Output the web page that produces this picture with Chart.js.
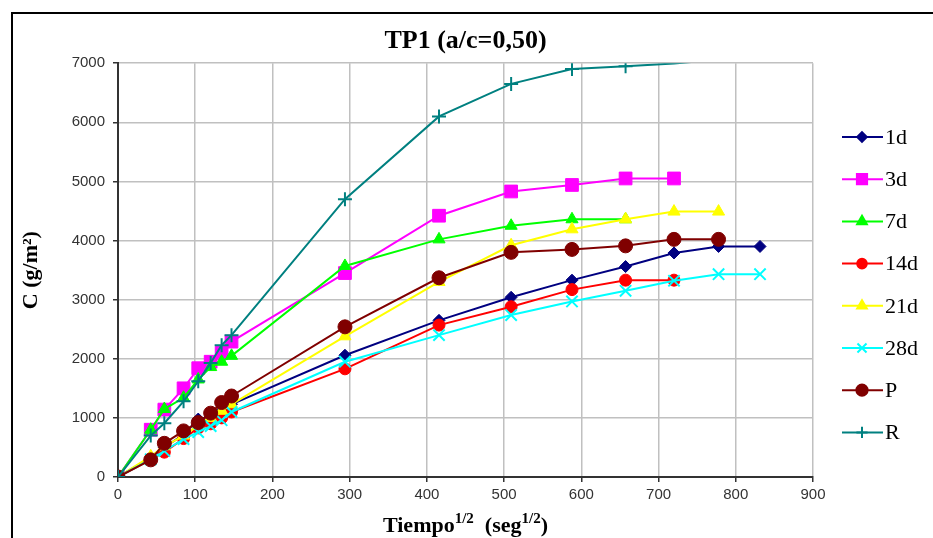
<!DOCTYPE html>
<html lang="es">
<head>
    <meta charset="UTF-8">
    <title>TP1 (a/c=0,50)</title>
    <script src="https://cdn.jsdelivr.net/npm/chart.js"></script>
    <style>
        body { margin: 0; background: #fff; overflow: hidden; }
        #marco { position: absolute; left: 11px; top: 12px; width: 1000px; height: 600px; border: 2px solid #000; }
        #grafico { position: absolute; left: 0; top: 0; }
    </style>
    <script>
        // raiz del tiempo (seg^1/2)
        var tiempo = [0, 42.4, 60, 84.9, 103.9, 120, 134.2, 147, 293.9, 415.7, 509.1, 587.9, 657.3, 720, 777.7, 831.4];

        var serie1d  = [0, 330, 500, 720, 980, 1020, 1120, 1230, 2060, 2650, 3040, 3330, 3560, 3790, 3900, 3900];
        var serie3d  = [0, 800, 1140, 1500, 1840, 1950, 2100, 2290, 3450, 4420, 4830, 4940, 5050, 5050];
        var serie7d  = [0, 800, 1150, 1340, 1650, 1860, 1950, 2050, 3570, 4020, 4250, 4360, 4360];
        var serie14d = [0, 300, 420, 650, 830, 900, 1000, 1100, 1830, 2570, 2880, 3170, 3330, 3330];
        var serie21d = [0, 350, 520, 700, 870, 1000, 1120, 1230, 2380, 3300, 3920, 4190, 4360, 4490, 4490];
        var serie28d = [0, 300, 440, 640, 760, 860, 960, 1100, 1950, 2400, 2740, 2970, 3150, 3320, 3430, 3430];
        var serieP   = [0, 290, 570, 780, 920, 1080, 1260, 1370, 2540, 3370, 3800, 3850, 3910, 4020, 4020];
        var serieR   = [0, 700, 910, 1280, 1620, 1930, 2230, 2400, 4700, 6100, 6650, 6900, 6950, 6995, 7060];

        var nombres = ['1d', '3d', '7d', '14d', '21d', '28d', 'P', 'R'];
        var ticksY = [0, 1000, 2000, 3000, 4000, 5000, 6000, 7000];
        var ticksX = [0, 100, 200, 300, 400, 500, 600, 700, 800, 900];

        function puntos(valores) {
            return valores.map(function(v, i) { return { x: tiempo[i], y: v }; });
        }

        function serie(nombre, valores, color, estilo, radio, orden) {
            return {
                label: nombre,
                data: puntos(valores),
                borderColor: color,
                backgroundColor: color,
                borderWidth: 2,
                pointStyle: estilo,
                radioBase: radio,
                // los puntos pegados al borde superior no se ven
                pointRadius: function(c) { return c.raw && c.raw.y > 6980 ? 0 : radio; },
                pointBorderWidth: (estilo === 'cross' || estilo === 'crossRot') ? 2 : 1,
                pointBorderColor: color,
                pointBackgroundColor: color,
                order: orden,
                clip: 0,
                tension: 0
            };
        }

        // leyenda a la derecha con linea y marcador
        var leyenda = {
            id: 'leyenda',
            afterDraw: function(chart) {
                var ctx = chart.ctx;
                ctx.save();
                chart.data.datasets.forEach(function(ds, i) {
                    var y = 137 + i * 42.2;
                    ctx.strokeStyle = ds.borderColor;
                    ctx.lineWidth = 2;
                    ctx.beginPath();
                    ctx.moveTo(842, y);
                    ctx.lineTo(883, y);
                    ctx.stroke();
                    Chart.helpers.drawPoint(ctx, {
                        pointStyle: ds.pointStyle,
                        radius: ds.radioBase * 0.8,
                        rotation: 0,
                        borderWidth: ds.pointBorderWidth
                    }, 862, y);
                    if (ds.pointStyle !== 'cross' && ds.pointStyle !== 'crossRot') {
                        ctx.fillStyle = ds.backgroundColor;
                        ctx.fill();
                    }
                    ctx.fillStyle = '#000';
                    ctx.font = '22px "Liberation Serif"';
                    ctx.textBaseline = 'middle';
                    ctx.textAlign = 'left';
                    ctx.fillText(ds.label, 885, y + 1);
                });

                // titulo del eje x con superindices
                var cx = (chart.chartArea.left + chart.chartArea.right) / 2;
                var yb = 532;
                var partes = [['Tiempo', 22, 0], ['1/2', 15, -9], ['  (seg', 22, 0], ['1/2', 15, -9], [')', 22, 0]];
                var ancho = 0;
                partes.forEach(function(p) {
                    ctx.font = 'bold ' + p[1] + 'px "Liberation Serif"';
                    ancho += ctx.measureText(p[0]).width;
                });
                var x = cx - ancho / 2;
                ctx.textBaseline = 'alphabetic';
                partes.forEach(function(p) {
                    ctx.font = 'bold ' + p[1] + 'px "Liberation Serif"';
                    ctx.fillText(p[0], x, yb + p[2]);
                    x += ctx.measureText(p[0]).width;
                });
                ctx.restore();
            }
        };

        window.onload = function() {
            var canvas = document.getElementById('grafico');
            var ctx = canvas.getContext('2d');

            var datos = {
                datasets: [
                    serie(nombres[0], serie1d,  '#000080', 'rectRot', 6, 7),
                    serie(nombres[1], serie3d,  '#ff00ff', 'rect', 9, 6),
                    serie(nombres[2], serie7d,  '#00ff00', 'triangle', 7, 5),
                    serie(nombres[3], serie14d, '#ff0000', 'circle', 6, 4),
                    serie(nombres[4], serie21d, '#ffff00', 'triangle', 7, 3),
                    serie(nombres[5], serie28d, '#00ffff', 'crossRot', 8, 2),
                    serie(nombres[6], serieP,   '#800000', 'circle', 7, 1),
                    serie(nombres[7], serieR,   '#008080', 'cross', 7, 0)
                ]
            };

            var config = {
                type: 'line',
                data: datos,
                options: {
                    responsive: false,
                    animation: false,
                    layout: { padding: { left: 18, right: 120, top: 0, bottom: 11 } },
                    plugins: {
                        legend: { display: false },
                        tooltip: { enabled: false },
                        title: {
                            display: true,
                            fullSize: false,
                            text: 'TP1 (a/c=0,50)',
                            color: '#000',
                            font: { family: '"Liberation Serif"', size: 26, weight: 'bold', lineHeight: 1.2 },
                            padding: { top: 26, bottom: 6 }
                        }
                    },
                    scales: {
                        x: {
                            type: 'linear',
                            min: 0,
                            max: 900,
                            afterBuildTicks: function(s) { s.ticks = ticksX.map(function(v) { return { value: v }; }); },
                            afterFit: function(s) { s.height = 50; },
                            grid: { color: '#c0c0c0', lineWidth: 1.5, tickLength: 5, tickColor: '#333' },
                            border: { color: '#333', width: 2 },
                            ticks: {
                                color: '#333', padding: 4,
                                font: { family: '"Liberation Sans"', size: 15 },
                                callback: function(v) { return String(v); }
                            }
                        },
                        y: {
                            min: 0,
                            max: 7000,
                            afterBuildTicks: function(s) { s.ticks = ticksY.map(function(v) { return { value: v }; }); },
                            afterFit: function(s) { s.width = 100; },
                            grid: { color: '#c0c0c0', lineWidth: 1.5, tickLength: 5, tickColor: '#333' },
                            border: { color: '#333', width: 2 },
                            ticks: {
                                color: '#333', padding: 8,
                                font: { family: '"Liberation Sans"', size: 15 },
                                callback: function(v) { return String(v); }
                            },
                            title: {
                                display: true,
                                text: 'C (g/m²)',
                                color: '#000',
                                font: { family: '"Liberation Serif"', size: 22, weight: 'bold' },
                                padding: { top: 0, bottom: 0 }
                            }
                        }
                    }
                },
                plugins: [leyenda]
            };

            new Chart(ctx, config);
        };
    </script>
</head>
<body>
    <div id="marco"></div>
    <canvas id="grafico" width="933" height="538"></canvas>
</body>
</html>
